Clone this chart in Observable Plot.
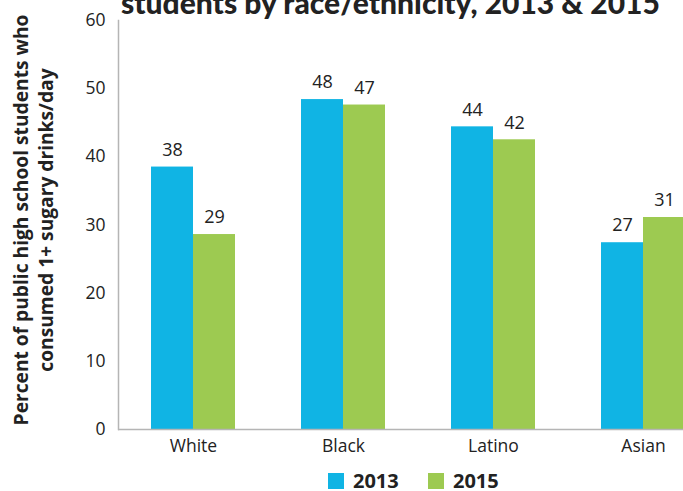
<!DOCTYPE html>
<html>
<head>
<meta charset="utf-8">
<script src="https://cdn.jsdelivr.net/npm/d3@7"></script>
<script src="https://cdn.jsdelivr.net/npm/@observablehq/plot@0.6"></script>
<style>
  html, body { margin: 0; padding: 0; background: #fff; overflow: hidden; }
  #wrap { position: relative; width: 683px; height: 491px; overflow: hidden; }
  #chart { position: absolute; left: 0; top: 0; }
  #title { position: absolute; left: 121px; top: -13px; white-space: nowrap;
           font-family: Lato, sans-serif; font-weight: 900; font-size: 30px; line-height: 30px; color: #222; }
  #ytitle { position: absolute; width: 460px; height: 50px; left: -197px; top: 195px;
            transform: rotate(-90deg); text-align: center; line-height: 25px;
            font-family: "Open Sans", sans-serif; font-weight: 700; font-size: 19.2px; color: #222; white-space: nowrap; }
  #legend { position: absolute; left: 328px; top: 470px; display: flex; font-family: "Open Sans", sans-serif;
            font-weight: 700; font-size: 20px; line-height: 22px; color: #222; }
  .item { display: flex; align-items: center; width: 100px; }
  .sw { width: 16px; height: 16px; margin-right: 9px; }
</style>
</head>
<body>
<div id="wrap">
  <div id="chart"></div>
  <div id="title"></div>
  <div id="ytitle"></div>
  <div id="legend"></div>
</div>
<script>
const title = "students by race/ethnicity, 2013 & 2015";
const yTitleLines = ["Percent of public high school students who", "consumed 1+ sugary drinks/day"];
const categories = ["White", "Black", "Latino", "Asian"];
const years = ["2013", "2015"];
const values2013 = [38.5, 48.4, 44.4, 27.4];
const values2015 = [28.6, 47.6, 42.5, 31.1];
const labels2013 = [38, 48, 44, 27];
const labels2015 = [29, 47, 42, 31];
const yTicks = [0, 10, 20, 30, 40, 50, 60];
const colors = ["#10b4e4", "#9dca51"];

const rows = [];
categories.forEach((c, i) => {
  rows.push({category: c, year: years[0], value: values2013[i], label: labels2013[i]});
  rows.push({category: c, year: years[1], value: values2015[i], label: labels2015[i]});
});

const chart = Plot.plot({
  width: 719,
  height: 460,
  marginLeft: 116,
  marginRight: 0,
  marginTop: 20,
  marginBottom: 31,
  style: {fontFamily: "'Open Sans', sans-serif", fontSize: "17.5px", color: "#222", maxWidth: "none", background: "transparent"},
  fx: {domain: categories, paddingInner: 0, paddingOuter: 0, axis: "bottom", tickSize: 0, tickPadding: 10, label: null},
  x: {domain: years, paddingInner: 0, paddingOuter: 0.752, axis: null},
  y: {domain: [0, 60], ticks: yTicks, tickSize: 0, tickPadding: 13, label: null, tickFormat: d => String(d)},
  color: {domain: years, range: colors},
  marks: [
    Plot.barY(rows, {fx: "category", x: "year", y: "value", fill: "year"}),
    Plot.text(rows, {fx: "category", x: "year", y: "value", text: d => String(d.label), dy: -17, lineAnchor: "middle", fill: "#222", fontSize: 18}),
    Plot.ruleY([0], {stroke: "#b5b5b5", strokeWidth: 1.5}),
    Plot.frame({anchor: "left", facetAnchor: "left", stroke: "#b5b5b5", strokeWidth: 1.5})
  ]
});
document.getElementById("chart").appendChild(chart);

document.getElementById("title").textContent = title;
document.getElementById("ytitle").innerHTML = yTitleLines.map(s => `<div>${s}</div>`).join("");
const legend = document.getElementById("legend");
years.forEach((y, i) => {
  const item = document.createElement("div");
  item.className = "item";
  const sw = document.createElement("div");
  sw.className = "sw";
  sw.style.background = colors[i];
  const t = document.createElement("span");
  t.textContent = y;
  item.appendChild(sw);
  item.appendChild(t);
  legend.appendChild(item);
});
</script>
</body>
</html>
